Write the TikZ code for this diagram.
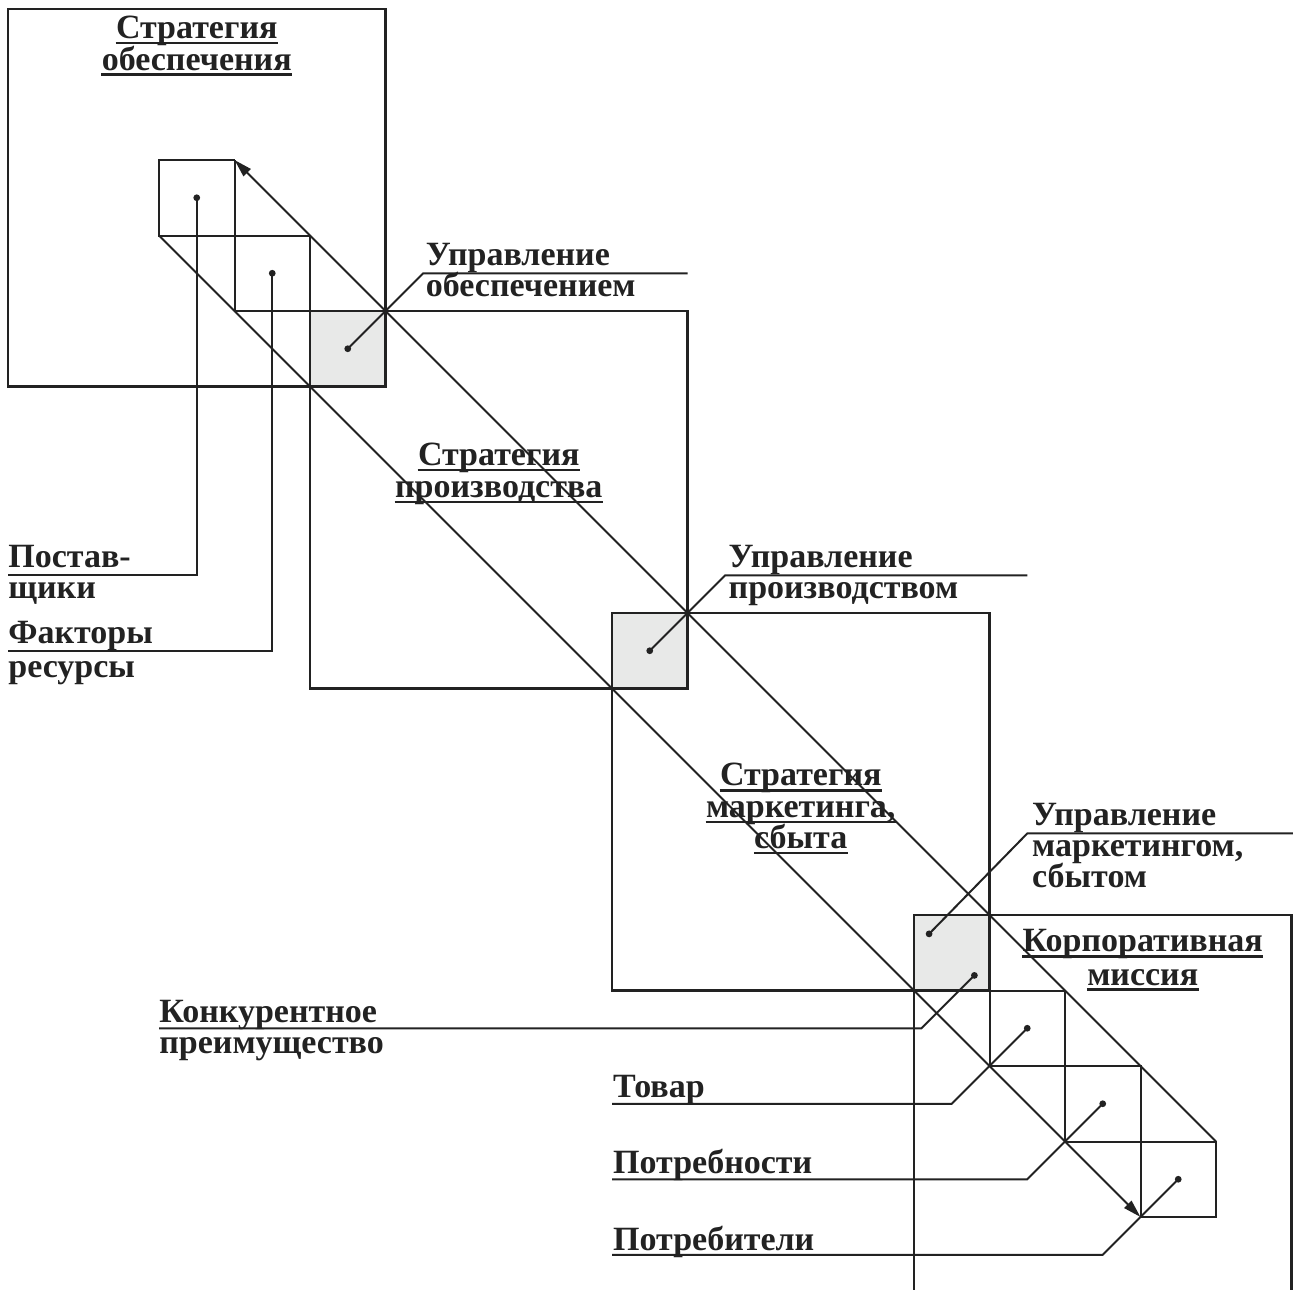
\documentclass[tikz,border=0pt]{standalone}
\usepackage{fontspec}
\setmainfont{Liberation Serif}
\usetikzlibrary{arrows.meta}
\definecolor{ink}{HTML}{222222}
\definecolor{cellgray}{HTML}{E8E9E8}
\tikzset{
  frame/.style={draw=ink, line width=1.4pt},
  gridline/.style={draw=ink, line width=1pt},
  flow/.style={draw=ink, line width=1pt, -{Triangle[length=9pt,width=5pt]}},
  lead/.style={draw=ink, line width=1pt},
  dot/.style={circle, fill=ink, inner sep=0pt, minimum size=3.4pt},
  cell/.style={fill=cellgray},
  txt/.style={font=\bfseries\fontsize{17}{17}\selectfont, text=ink, inner sep=0pt},
  title/.style={txt, anchor=base, text depth=0pt},
  tag/.style={txt, anchor=base west},
  uline/.style={draw=ink, line width=1.3pt},
}
% underlined title line: name, position, text
\newcommand\titleline[3]{%
  \node[title] (#1) at (#2) {#3};
  \draw[uline] ([yshift=-2.2pt]#1.base west) -- ([yshift=-2.2pt]#1.base east);}
\begin{document}
\begin{tikzpicture}[x=37.75pt, y={(0pt,-37.75pt)}]
\useasboundingbox (-0.10596,-0.11921) rectangle (17.0199,16.9669);

% shaded junction cells
\fill[cell] (4,4) rectangle (5,5);
\fill[cell] (8,8) rectangle (9,9);
\fill[cell] (12,12) rectangle (13,13);

% strategy frames
\draw[frame] (0,0) rectangle (5,5);
\draw[frame] (4,4) rectangle (9,9);
\draw[frame] (8,8) rectangle (13,13);
\draw[frame] (12,16.97) -- (12,12) -- (17,12) -- (17,16.97);

% staircase at the upper left
\draw[gridline] (3,2) -- (2,2) -- (2,3) -- (4,3) -- (4,4);
\draw[gridline] (3,2) -- (3,4) -- (4,4);
% staircase at the lower right
\draw[gridline] (13,13) -- (13,14) -- (15,14) -- (15,16) -- (16,16) -- (16,15)
  -- (14,15) -- (14,13) -- (13,13);

% the two diagonal flows
\coordinate (upA) at (16,15);
\coordinate (upB) at (3,2);
\coordinate (loA) at (2,3);
\coordinate (loB) at (15,16);
\draw[flow] (upA) -- (upB);
\draw[flow] (loA) -- (loB);

% dots
\node[dot] (dSup) at (2.5,2.5) {};
\node[dot] (dFac) at (3.5,3.5) {};
\node[dot] (dUpr1) at (4.5,4.5) {};
\node[dot] (dUpr2) at (8.5,8.5) {};
\node[dot] (dUpr3) at (12.2,12.25) {};
\node[dot] (dKonk) at (12.8,12.8) {};
\node[dot] (dTov) at (13.5,13.5) {};
\node[dot] (dPn) at (14.5,14.5) {};
\node[dot] (dPt) at (15.5,15.5) {};

% bends and ends of the leaders
\coordinate (bSup) at (2.5,7.5);  \coordinate (eSup) at (0,7.5);
\coordinate (bFac) at (3.5,8.5);  \coordinate (eFac) at (0,8.5);
\coordinate (bUpr1) at (5.5,3.5); \coordinate (eUpr1) at (9,3.5);
\coordinate (bUpr2) at (9.5,7.5); \coordinate (eUpr2) at (13.5,7.5);
\coordinate (bUpr3) at (13.5,10.92); \coordinate (eUpr3) at (17.02,10.92);
\coordinate (bKonk) at (12.1,13.5); \coordinate (eKonk) at (2,13.5);
\coordinate (bTov) at (12.5,14.5); \coordinate (eTov) at (8,14.5);
\coordinate (bPn) at (13.5,15.5);  \coordinate (ePn) at (8,15.5);
\coordinate (bPt) at (14.5,16.5);  \coordinate (ePt) at (8,16.5);

\draw[lead] (dSup.center) -- (bSup) -- (eSup);
\draw[lead] (dFac.center) -- (bFac) -- (eFac);
\draw[lead] (dUpr1.center) -- (bUpr1) -- (eUpr1);
\draw[lead] (dUpr2.center) -- (bUpr2) -- (eUpr2);
\draw[lead] (dUpr3.center) -- (bUpr3) -- (eUpr3);
\draw[lead] (dKonk.center) -- (bKonk) -- (eKonk);
\draw[lead] (dTov.center) -- (bTov) -- (eTov);
\draw[lead] (dPn.center) -- (bPn) -- (ePn);
\draw[lead] (dPt.center) -- (bPt) -- (ePt);

% strategy titles
\titleline{t1a}{2.5,0.39}{Стратегия}
\titleline{t1b}{2.5,0.81}{обеспечения}
\titleline{t2a}{6.5,6.05}{Стратегия}
\titleline{t2b}{6.5,6.47}{производства}
\titleline{t3a}{10.5,10.29}{Стратегия}
\titleline{t3b}{10.5,10.71}{маркетинга,}
\titleline{t3c}{10.5,11.12}{сбыта}
\titleline{t4a}{15.03,12.49}{Корпоративная}
\titleline{t4b}{15.03,12.93}{миссия}

% leader labels
\node[tag] (lSup1) at (0,7.40) {Постав-};
\node[tag] (lSup2) at (0,7.81) {щики};
\node[tag] (lFac1) at (0,8.40) {Факторы};
\node[tag] (lFac2) at (0,8.85) {ресурсы};
\node[tag] (lUpr1a) at (5.53,3.40) {Управление};
\node[tag] (lUpr1b) at (5.53,3.81) {обеспечением};
\node[tag] (lUpr2a) at (9.54,7.40) {Управление};
\node[tag] (lUpr2b) at (9.54,7.81) {производством};
\node[tag] (lUpr3a) at (13.56,10.82) {Управление};
\node[tag] (lUpr3b) at (13.56,11.23) {маркетингом,};
\node[tag] (lUpr3c) at (13.56,11.64) {сбытом};
\node[tag] (lKonk1) at (2.0,13.43) {Конкурентное};
\node[tag] (lKonk2) at (2.0,13.84) {преимущество};
\node[tag] (lTov) at (8.01,14.42) {Товар};
\node[tag] (lPn) at (8.01,15.43) {Потребности};
\node[tag] (lPt) at (8.01,16.44) {Потребители};
\end{tikzpicture}
\end{document}
